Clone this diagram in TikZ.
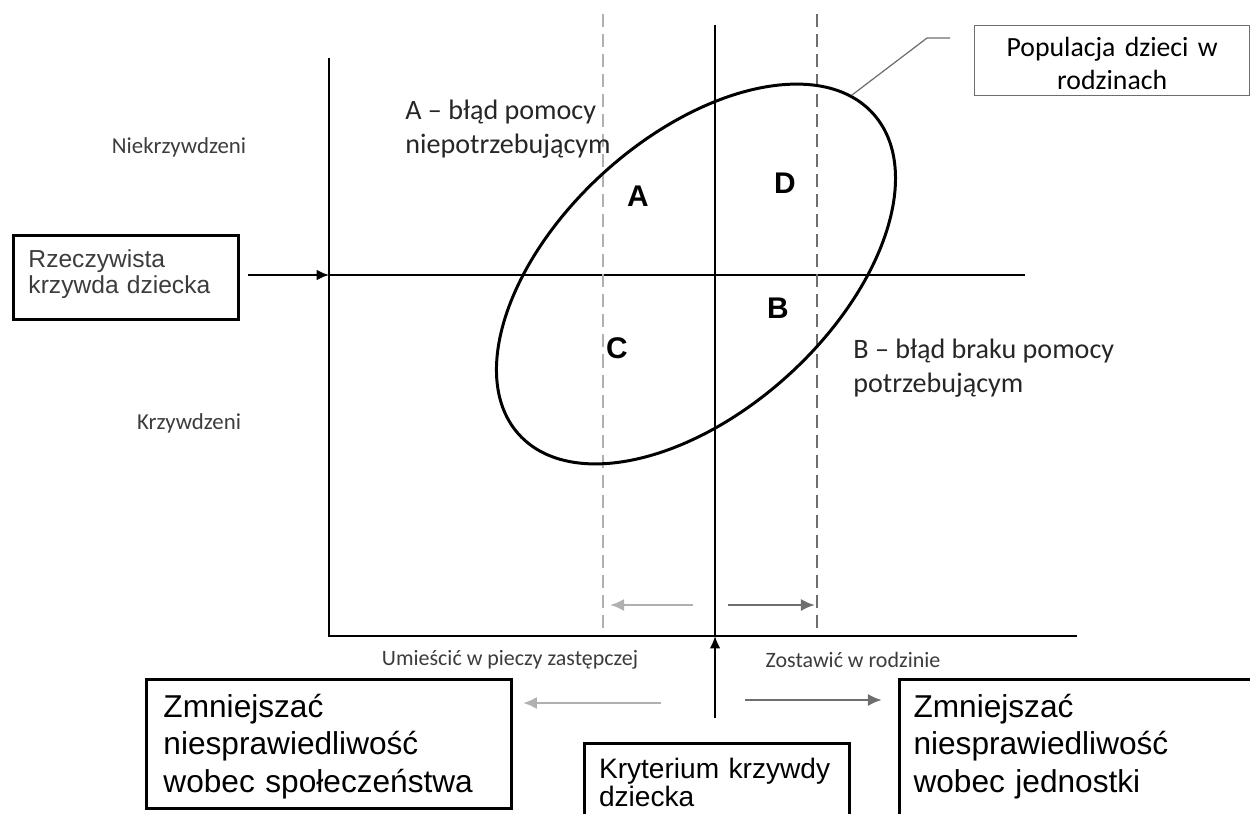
\documentclass[tikz,border=0pt]{standalone}
\usepackage{fontspec}
\setmainfont{Carlito}
\newfontfamily\arialfont{Liberation Sans}
\usetikzlibrary{arrows.meta,positioning}
\definecolor{lightgr}{HTML}{B0B0B0}
\definecolor{darkgr}{HTML}{6E6E6E}
\definecolor{textgr}{HTML}{3C3C3C}
\tikzset{
  axisline/.style={line width=1.1pt, black},
  dashline/.style={line width=1.5pt, dash pattern=on 7.4pt off 4pt},
  arr/.style={line width=1.1pt, -{Latex[length=7pt,width=6pt]}},
  grarr/.style={line width=1.6pt, -{Latex[length=8pt,width=7pt]}},
  bigbox/.style={draw, line width=1.7pt, anchor=north west, align=left, inner ysep=0pt},
  lbl/.style={text=textgr, inner sep=0pt},
  quadrant/.style={font=\arialfont\bfseries\fontsize{17}{20}\selectfont, inner sep=0pt},
}

\begin{document}
\begin{tikzpicture}[x=0.02cm, y=-0.02cm]
    \useasboundingbox (0,0) rectangle (1250,814);
    % define coordinates
    % axes
    \coordinate (y_top) at (329,58);
    \coordinate (corner) at (329,636);
    \coordinate (x_right) at (1077,636);
    \coordinate (h_left) at (329,275);
    \coordinate (h_right) at (1025,275);
    % criterion line
    \coordinate (v_top) at (715,25);
    \coordinate (v_axis) at (715,636);
    % population
    \coordinate (pop_c) at (696,274);
    \coordinate (lead_a) at (852,95);
    \coordinate (lead_b) at (927,38);
    \coordinate (lead_c) at (950,38);
    % shifted criteria and arrows
    \coordinate (crit_l_top) at (603,14);
    \coordinate (crit_l_bot) at (603,630);
    \coordinate (crit_r_top) at (817,14);
    \coordinate (crit_r_bot) at (817,630);
    \coordinate (shift_l) at (693,605);
    \coordinate (shift_l_end) at (610,605);
    \coordinate (shift_r) at (728,605);
    \coordinate (shift_r_end) at (815,605);
    \coordinate (goal_l) at (661,703);
    \coordinate (goal_r) at (745,700);
    % boxes
    \node[bigbox, text width=3.9cm, inner xsep=0.3cm, text height=0.64cm, text depth=1.04cm,
        font=\arialfont\fontsize{14}{14.6}\selectfont, text=textgr] (harm) at (12,234)
        {Rzeczywista\\krzywda dziecka};
    \node[bigbox, text width=6.62cm, inner xsep=0.34cm, text height=0.76cm, text depth=1.82cm,
        font=\arialfont\fontsize{18}{21.3}\selectfont] (soc) at (145,678)
        {Zmniejszać\\niesprawiedliwość\\wobec społeczeństwa};
    \node[bigbox, text width=7cm, inner xsep=0.28cm, text height=0.76cm, text depth=3cm,
        font=\arialfont\fontsize{18}{21.3}\selectfont] (ind) at (898,678)
        {Zmniejszać\\niesprawiedliwość\\wobec jednostki};
    \node[bigbox, text width=4.72cm, inner xsep=0.29cm, text height=0.7cm, text depth=2cm,
        font=\arialfont\fontsize{16}{16}\selectfont] (crit) at (583,742)
        {\hyphenpenalty=10000\relax Kryterium krzywdy\\dziecka};
    \node[draw=darkgr, line width=0.8pt, anchor=north west, align=center, inner sep=0pt,
        text width=5.5cm, text height=0.62cm, text depth=0.78cm,
        font=\fontsize{15.8}{18.5}\selectfont] (pop) at (974,25)
        {Populacja dzieci w\\rodzinach};
    % draw axes and lines
    \draw[axisline] (y_top) -- (corner) -- (x_right);
    \draw[axisline] (h_left) -- (h_right);
    \draw[axisline] (v_top) -- (v_axis);
    \draw[dashline, lightgr] (crit_l_top) -- (crit_l_bot);
    \draw[dashline, darkgr] (crit_r_top) -- (crit_r_bot);
    \draw[line width=1.7pt, rotate around={42.2:(pop_c)}] (pop_c) ellipse [x radius=4.78cm, y radius=2.74cm];
    \draw[darkgr, line width=0.7pt] (lead_a) -- (lead_b) -- (lead_c);
    % arrows
    \draw[arr, shorten <=0.16cm] (harm.east |- h_left) -- (h_left);
    \draw[arr, shorten <=0.48cm] (crit.north -| v_axis) -- (v_axis);
    \draw[grarr, lightgr] (shift_l) -- (shift_l_end);
    \draw[grarr, darkgr] (shift_r) -- (shift_r_end);
    \draw[grarr, lightgr, shorten >=0.2cm] (goal_l) -- (soc.east |- goal_l);
    \draw[grarr, darkgr, shorten >=0.32cm] (goal_r) -- (ind.west |- goal_r);
    % add labels
    \node[lbl, font=\fontsize{13}{15}\selectfont] (unharmed) at (179,147) {Niekrzywdzeni};
    \node[lbl, font=\fontsize{13}{15}\selectfont, below=5.52cm of unharmed.center, xshift=0.2cm, anchor=center] (harmed) {Krzywdzeni};
    \node[lbl, text=black!85, font=\fontsize{16}{19}\selectfont, anchor=west, align=left] (err_a) at (405,129)
        {A – błąd pomocy\\niepotrzebującym};
    \node[lbl, text=black!85, font=\fontsize{16}{19}\selectfont, anchor=west, align=left] (err_b) at (853,368)
        {B – błąd braku pomocy\\potrzebującym};
    \node[lbl, font=\fontsize{12.5}{15}\selectfont] (place) at (510,660) {Umieścić w pieczy zastępczej};
    \node[lbl, font=\fontsize{12.5}{15}\selectfont] (leave) at (853,660) {Zostawić w rodzinie};
    \node[quadrant] (q_a) at (638,196) {A};
    \node[quadrant] (q_d) at (785,183) {D};
    \node[quadrant] (q_b) at (778,308) {B};
    \node[quadrant] (q_c) at (617,348) {C};
\end{tikzpicture}
\end{document}
